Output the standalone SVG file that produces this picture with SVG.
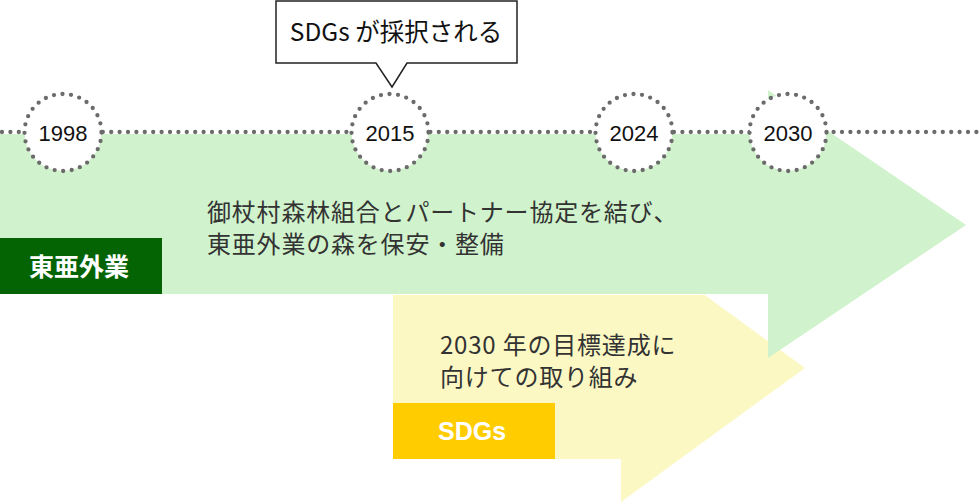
<svg xmlns="http://www.w3.org/2000/svg" width="980" height="503" viewBox="0 0 980 503">
<style>
.dot{fill:none;stroke:#6b6b6b;stroke-width:4.3;stroke-linecap:round;stroke-dasharray:0 8.4}
.ring{fill:#fff;stroke:#6b6b6b;stroke-width:4.3;stroke-linecap:round;stroke-dasharray:0 8.6}
.yr{font-family:"Liberation Sans",Arial,sans-serif;font-size:22px;fill:#111;text-anchor:middle}
.body{font-family:"Noto Sans CJK JP",sans-serif;font-size:24px;fill:#333;letter-spacing:0.8px}
.lab{font-family:"Noto Sans CJK JP",sans-serif;font-size:25px;font-weight:bold;fill:#fff}
.lab.latin{font-family:"Liberation Sans",Arial,sans-serif}
</style>
<g id="sdgs-arrow">
<polygon points="393,295 705,295 621,234 805,368 621,502 621,459 393,459" fill="#fbf8c4"/>
<polygon points="393,295 621,295 621,459 393,459" fill="#fbf8c4"/>
</g>
<g id="toa-arrow">
<polygon points="0,134 768,134 768,90 966,225 768,358 768,294 0,294" fill="#d0f2cc"/>
</g>
<g id="connectors">
<line class="dot" x1="2" y1="132" x2="980" y2="132"/>
</g>
<g id="y1998"><circle cx="63" cy="132.5" r="38.5" class="ring"/><text class="yr" x="63" y="141">1998</text></g>
<g id="y2015"><circle cx="390" cy="132.5" r="38.5" class="ring"/><text class="yr" x="390" y="141">2015</text></g>
<g id="y2024"><circle cx="634" cy="132.5" r="38.5" class="ring"/><text class="yr" x="634" y="141">2024</text></g>
<g id="y2030"><circle cx="788" cy="132.5" r="38.5" class="ring"/><text class="yr" x="788" y="141">2030</text></g>
<g id="callout">
<path d="M276,1 H517 V63 H407 L392,87 L376,63 H276 Z" fill="#fff" stroke="#222" stroke-width="1.5" stroke-linejoin="miter"/>
<text x="396" y="41" text-anchor="middle" font-family="'Noto Sans CJK JP',sans-serif" font-size="24.5" fill="#111">SDGs が採択される</text>
</g>
<g id="toa-label">
<rect x="0" y="238" width="162" height="56" fill="#046404"/>
<text class="lab" x="29" y="276">東亜外業</text>
</g>
<g id="sdgs-label">
<rect x="393" y="403" width="162" height="56" fill="#ffcc00"/>
<text class="lab latin" x="438" y="440">SDGs</text>
</g>
<g id="toa-text">
<text class="body" x="207" y="221">御杖村森林組合とパートナー協定を結び、</text>
<text class="body" x="207" y="253">東亜外業の森を保安・整備</text>
</g>
<g id="sdgs-text">
<text class="body" x="440" y="354">2030 年の目標達成に</text>
<text class="body" x="440" y="386">向けての取り組み</text>
</g>
</svg>
